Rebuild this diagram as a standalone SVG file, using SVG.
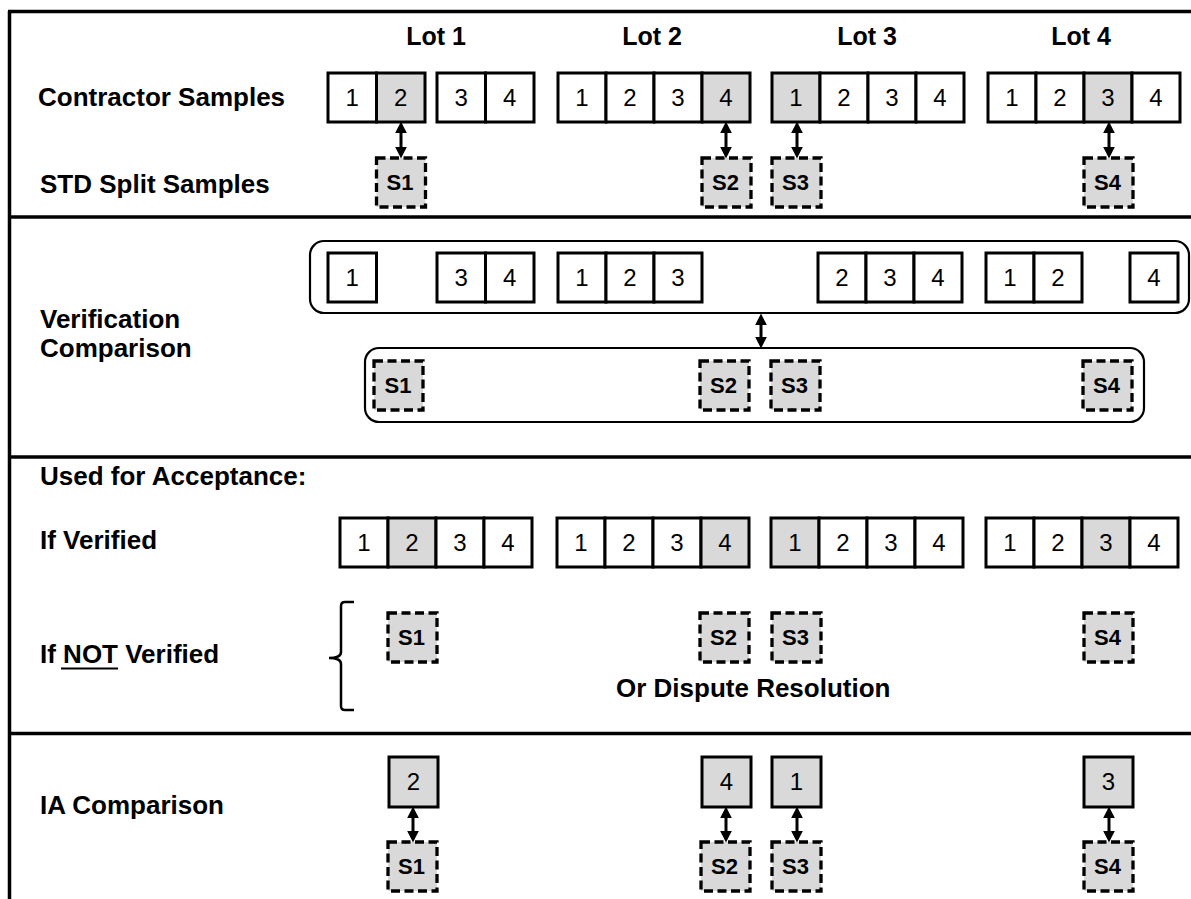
<svg xmlns="http://www.w3.org/2000/svg" width="1191" height="899" viewBox="0 0 1191 899">
<style>
.frame{stroke:#000;stroke-width:3.5;fill:none}
.cell{fill:#fff;stroke:#000;stroke-width:3}
.cell.g{fill:#d9d9d9}
.s{fill:#d9d9d9;stroke:#000;stroke-width:3.3;stroke-dasharray:9 4.5}
.grp{fill:#fff;stroke:#000;stroke-width:2.2}
.num{font-family:"Liberation Sans",Arial,sans-serif;font-size:24px;text-anchor:middle;fill:#000}
.sl{font-family:"Liberation Sans",Arial,sans-serif;font-size:22px;font-weight:bold;text-anchor:middle;fill:#000}
.lbl{font-family:"Liberation Sans",Arial,sans-serif;font-size:26px;font-weight:bold;fill:#000}
.lot{font-family:"Liberation Sans",Arial,sans-serif;font-size:25px;font-weight:bold;text-anchor:middle;fill:#000}
.arr{stroke:#000;stroke-width:3;fill:none;marker-start:url(#ah);marker-end:url(#ah)}
</style>
<defs>
<marker id="ah" markerUnits="userSpaceOnUse" markerWidth="12" markerHeight="12" viewBox="0 0 10 10" refX="2" refY="5" orient="auto-start-reverse">
<path d="M0,0 L10,5 L0,10 z" fill="#000"/>
</marker>
</defs>
<rect width="1191" height="899" fill="#fff"/>
<g id="frame">
<line class="frame" x1="9.5" y1="11" x2="9.5" y2="899"/>
<line class="frame" x1="8" y1="11.5" x2="1191" y2="11.5"/>
<line class="frame" x1="8" y1="217" x2="1191" y2="217"/>
<line class="frame" x1="8" y1="457" x2="1191" y2="457"/>
<line class="frame" x1="8" y1="733.5" x2="1191" y2="733.5"/>
</g>
<g id="labels">
<text class="lot" x="436" y="45">Lot 1</text>
<text class="lot" x="652" y="45">Lot 2</text>
<text class="lot" x="867" y="45">Lot 3</text>
<text class="lot" x="1081" y="45">Lot 4</text>
<text class="lbl" x="38" y="106">Contractor Samples</text>
<text class="lbl" x="40" y="193">STD Split Samples</text>
<text class="lbl" x="40" y="328">Verification</text>
<text class="lbl" x="40" y="357">Comparison</text>
<text class="lbl" x="40" y="485">Used for Acceptance:</text>
<text class="lbl" x="40" y="549">If Verified</text>
<text class="lbl" x="40" y="663">If NOT Verified</text>
<line x1="61" y1="668.5" x2="118" y2="668.5" stroke="#000" stroke-width="2.2"/>
<text class="lbl" x="616" y="697">Or Dispute Resolution</text>
<text class="lbl" x="40" y="814">IA Comparison</text>
</g>
<g id="contractor-samples">
<g id="c-lot1">
<rect class="cell" x="328" y="73" width="48.5" height="49"/><text class="num" x="352.2" y="106">1</text>
<rect class="cell g" x="376.5" y="73" width="48.5" height="49"/><text class="num" x="400.7" y="106">2</text>
<rect class="cell" x="437" y="73" width="48.5" height="49"/><text class="num" x="461.2" y="106">3</text>
<rect class="cell" x="485.5" y="73" width="48.5" height="49"/><text class="num" x="509.7" y="106">4</text>
</g>
<g id="c-lot2">
<rect class="cell" x="558" y="73" width="48" height="49"/><text class="num" x="582" y="106">1</text>
<rect class="cell" x="606" y="73" width="48" height="49"/><text class="num" x="630" y="106">2</text>
<rect class="cell" x="654" y="73" width="48" height="49"/><text class="num" x="678" y="106">3</text>
<rect class="cell g" x="702" y="73" width="48" height="49"/><text class="num" x="726" y="106">4</text>
</g>
<g id="c-lot3">
<rect class="cell g" x="772" y="73" width="48" height="49"/><text class="num" x="796" y="106">1</text>
<rect class="cell" x="820" y="73" width="48" height="49"/><text class="num" x="844" y="106">2</text>
<rect class="cell" x="868" y="73" width="48" height="49"/><text class="num" x="892" y="106">3</text>
<rect class="cell" x="916" y="73" width="48" height="49"/><text class="num" x="940" y="106">4</text>
</g>
<g id="c-lot4">
<rect class="cell" x="988" y="73" width="48" height="49"/><text class="num" x="1012" y="106">1</text>
<rect class="cell" x="1036" y="73" width="48" height="49"/><text class="num" x="1060" y="106">2</text>
<rect class="cell g" x="1084" y="73" width="48" height="49"/><text class="num" x="1108" y="106">3</text>
<rect class="cell" x="1132" y="73" width="48" height="49"/><text class="num" x="1156" y="106">4</text>
</g>
</g>
<g id="std-split">
<g id="s1-a"><rect class="s" x="376.5" y="158" width="49" height="49"/><text class="sl" x="400" y="190">S1</text></g>
<g id="s2-a"><rect class="s" x="702" y="158" width="49" height="49"/><text class="sl" x="725.5" y="190">S2</text></g>
<g id="s3-a"><rect class="s" x="772" y="158" width="49" height="49"/><text class="sl" x="795.5" y="190">S3</text></g>
<g id="s4-a"><rect class="s" x="1084" y="158" width="49" height="49"/><text class="sl" x="1107.5" y="190">S4</text></g>
</g>
<g id="verification">
<g id="v-contractor">
<rect class="grp" x="310" y="241" width="879" height="72" rx="14"/>
<rect class="cell" x="328" y="253" width="48.5" height="49"/><text class="num" x="352.2" y="286">1</text>
<rect class="cell" x="437" y="253" width="48.5" height="49"/><text class="num" x="461.2" y="286">3</text>
<rect class="cell" x="485.5" y="253" width="48.5" height="49"/><text class="num" x="509.7" y="286">4</text>
<rect class="cell" x="558" y="253" width="48" height="49"/><text class="num" x="582" y="286">1</text>
<rect class="cell" x="606" y="253" width="48" height="49"/><text class="num" x="630" y="286">2</text>
<rect class="cell" x="654" y="253" width="48" height="49"/><text class="num" x="678" y="286">3</text>
<rect class="cell" x="818" y="253" width="48" height="49"/><text class="num" x="842" y="286">2</text>
<rect class="cell" x="866" y="253" width="48" height="49"/><text class="num" x="890" y="286">3</text>
<rect class="cell" x="914" y="253" width="48" height="49"/><text class="num" x="938" y="286">4</text>
<rect class="cell" x="986" y="253" width="48" height="49"/><text class="num" x="1010" y="286">1</text>
<rect class="cell" x="1034" y="253" width="48" height="49"/><text class="num" x="1058" y="286">2</text>
<rect class="cell" x="1130" y="253" width="48" height="49"/><text class="num" x="1154" y="286">4</text>
</g>
<g id="v-split">
<rect class="grp" x="365" y="348" width="779" height="74" rx="14"/>
<rect class="s" x="374" y="361" width="49" height="49"/><text class="sl" x="398" y="393">S1</text>
<rect class="s" x="700" y="361" width="49" height="49"/><text class="sl" x="723.5" y="393">S2</text>
<rect class="s" x="771" y="361" width="49" height="49"/><text class="sl" x="794.5" y="393">S3</text>
<rect class="s" x="1083" y="361" width="49" height="49"/><text class="sl" x="1106.5" y="393">S4</text>
</g>
</g>
<g id="acceptance">
<g id="a-lot1">
<rect class="cell" x="340" y="518" width="48" height="49"/><text class="num" x="364" y="551">1</text>
<rect class="cell g" x="388" y="518" width="48" height="49"/><text class="num" x="412" y="551">2</text>
<rect class="cell" x="436" y="518" width="48" height="49"/><text class="num" x="460" y="551">3</text>
<rect class="cell" x="484" y="518" width="48" height="49"/><text class="num" x="508" y="551">4</text>
</g>
<g id="a-lot2">
<rect class="cell" x="557" y="518" width="48" height="49"/><text class="num" x="581" y="551">1</text>
<rect class="cell" x="605" y="518" width="48" height="49"/><text class="num" x="629" y="551">2</text>
<rect class="cell" x="653" y="518" width="48" height="49"/><text class="num" x="677" y="551">3</text>
<rect class="cell g" x="701" y="518" width="48" height="49"/><text class="num" x="725" y="551">4</text>
</g>
<g id="a-lot3">
<rect class="cell g" x="771" y="518" width="48" height="49"/><text class="num" x="795" y="551">1</text>
<rect class="cell" x="819" y="518" width="48" height="49"/><text class="num" x="843" y="551">2</text>
<rect class="cell" x="867" y="518" width="48" height="49"/><text class="num" x="891" y="551">3</text>
<rect class="cell" x="915" y="518" width="48" height="49"/><text class="num" x="939" y="551">4</text>
</g>
<g id="a-lot4">
<rect class="cell" x="986" y="518" width="48" height="49"/><text class="num" x="1010" y="551">1</text>
<rect class="cell" x="1034" y="518" width="48" height="49"/><text class="num" x="1058" y="551">2</text>
<rect class="cell g" x="1082" y="518" width="48" height="49"/><text class="num" x="1106" y="551">3</text>
<rect class="cell" x="1130" y="518" width="48" height="49"/><text class="num" x="1154" y="551">4</text>
</g>
<g id="brace">
<path d="M354,602 L345,602 Q341,602 341,606 L341,652 Q341,658 329,658 Q341,658 341,664 L341,706 Q341,710 345,710 L354,710" fill="none" stroke="#000" stroke-width="2.5"/>
</g>
<g id="a-split">
<rect class="s" x="388" y="613" width="49" height="49"/><text class="sl" x="411.5" y="645">S1</text>
<rect class="s" x="700" y="613" width="49" height="49"/><text class="sl" x="723.5" y="645">S2</text>
<rect class="s" x="772" y="613" width="49" height="49"/><text class="sl" x="795.5" y="645">S3</text>
<rect class="s" x="1084" y="613" width="49" height="49"/><text class="sl" x="1107.5" y="645">S4</text>
</g>
</g>
<g id="ia">
<g id="ia-c1"><rect class="cell g" x="389" y="757" width="49" height="50"/><text class="num" x="413.5" y="790">2</text></g>
<g id="ia-c2"><rect class="cell g" x="702" y="757" width="49" height="50"/><text class="num" x="726.5" y="790">4</text></g>
<g id="ia-c3"><rect class="cell g" x="772" y="757" width="49" height="50"/><text class="num" x="796.5" y="790">1</text></g>
<g id="ia-c4"><rect class="cell g" x="1084" y="757" width="49" height="50"/><text class="num" x="1108.5" y="790">3</text></g>
<g id="ia-s1"><rect class="s" x="388" y="842" width="49" height="49"/><text class="sl" x="411.5" y="874">S1</text></g>
<g id="ia-s2"><rect class="s" x="701" y="842" width="49" height="49"/><text class="sl" x="724.5" y="874">S2</text></g>
<g id="ia-s3"><rect class="s" x="772" y="842" width="49" height="49"/><text class="sl" x="795.5" y="874">S3</text></g>
<g id="ia-s4"><rect class="s" x="1084" y="842" width="49" height="49"/><text class="sl" x="1107.5" y="874">S4</text></g>
</g>
<g id="connectors">
<line class="arr" x1="401" y1="131" x2="401" y2="149"/>
<line class="arr" x1="726" y1="131" x2="726" y2="149"/>
<line class="arr" x1="797" y1="131" x2="797" y2="149"/>
<line class="arr" x1="1109" y1="131" x2="1109" y2="149"/>
<line class="arr" x1="761" y1="323" x2="761" y2="339"/>
<line class="arr" x1="413" y1="816" x2="413" y2="833"/>
<line class="arr" x1="726" y1="816" x2="726" y2="833"/>
<line class="arr" x1="797" y1="816" x2="797" y2="833"/>
<line class="arr" x1="1109" y1="816" x2="1109" y2="833"/>
</g>
</svg>
